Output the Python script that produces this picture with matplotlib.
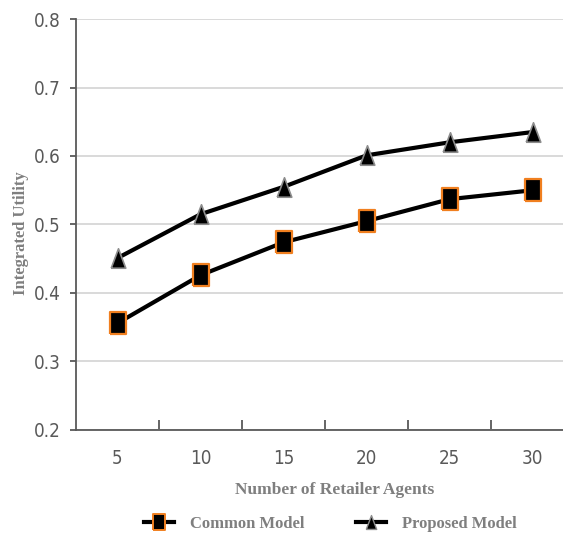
import matplotlib
matplotlib.use("Agg")
import matplotlib.pyplot as plt
import numpy as np
from matplotlib.lines import Line2D

agents = [5, 10, 15, 20, 25, 30]
common_model = [0.356, 0.426, 0.474, 0.505, 0.537, 0.550]
proposed_model = [0.451, 0.515, 0.555, 0.601, 0.620, 0.635]

fig = plt.figure(figsize=(5.63, 5.37), dpi=100)
ax = fig.add_axes([0.135, 0.1993, 0.885, 0.7653])

x = np.arange(len(agents))
rect = [(-0.68, -1), (0.68, -1), (0.68, 1), (-0.68, 1), (-0.68, -1)]
tri = [(-0.75, -1), (0.75, -1), (0, 1), (-0.75, -1)]

ax.plot(x, common_model, color="black", lw=3, marker=rect, ms=16,
        mfc="black", mec="#f07f1f", mew=1.6, zorder=3)
ax.plot(x, proposed_model, color="black", lw=3, marker=tri, ms=14,
        mfc="black", mec="#8c8c8c", mew=1.2, zorder=3)

ax.set_ylim(0.2, 0.8)
ax.set_yticks(np.arange(0.2, 0.81, 0.1))
ax.set_yticklabels([f"{v:.1f}" for v in np.arange(0.2, 0.81, 0.1)])
ax.set_xlim(-0.5, len(agents) - 0.5)
ax.set_xticks(x)
ax.set_xticklabels([str(a) for a in agents])
ax.set_xticks(np.arange(0.5, len(agents) - 0.5), minor=True)

ax.grid(axis="y", color="#d9d9d9", lw=1.4)
ax.set_axisbelow(True)
for s in ["top", "right"]:
    ax.spines[s].set_visible(False)
for s in ["left", "bottom"]:
    ax.spines[s].set_color("#595959")
    ax.spines[s].set_linewidth(1.3)

ax.tick_params(axis="y", length=4, width=1.3, color="#595959",
               labelcolor="#595959", pad=7)
ax.tick_params(axis="x", which="major", length=0, labelcolor="#595959", pad=14)
ax.tick_params(axis="x", which="minor", direction="in", length=7, width=1.3,
               color="#595959")
for lab in ax.get_xticklabels() + ax.get_yticklabels():
    lab.set_fontfamily("DejaVu Sans")
    lab.set_fontstretch("condensed")
    lab.set_fontsize(13.5)

label_font = {"family": "Liberation Serif", "weight": "bold",
              "color": "#7f7f7f"}
ax.set_xlabel("Number of Retailer Agents", fontsize=12.5, **label_font)
ax.set_ylabel("Integrated Utility", fontsize=12, **label_font)
ax.xaxis.set_label_coords((335 - 76) / (0.885 * 563), -52 / (0.7653 * 537))
ax.yaxis.set_label_coords((29 - 76) / (0.885 * 563), (430 - 233) / (0.7653 * 537))

handles = [
    Line2D([], [], color="black", lw=3, marker=rect, ms=12, mfc="black",
           mec="#f07f1f", mew=1.4),
    Line2D([], [], color="black", lw=3, marker=tri, ms=10, mfc="black",
           mec="#8c8c8c", mew=1.0),
]
leg = fig.legend(handles, ["Common Model", "Proposed Model"], loc="center",
                 bbox_to_anchor=(0.587, 0.024), ncol=2, frameon=False,
                 handlelength=1.8, columnspacing=3.05, handletextpad=1.0,
                 prop={"family": "Liberation Serif", "weight": "bold",
                       "size": 12})
for t in leg.get_texts():
    t.set_color("#7f7f7f")

fig.savefig("out.png", dpi=100)
